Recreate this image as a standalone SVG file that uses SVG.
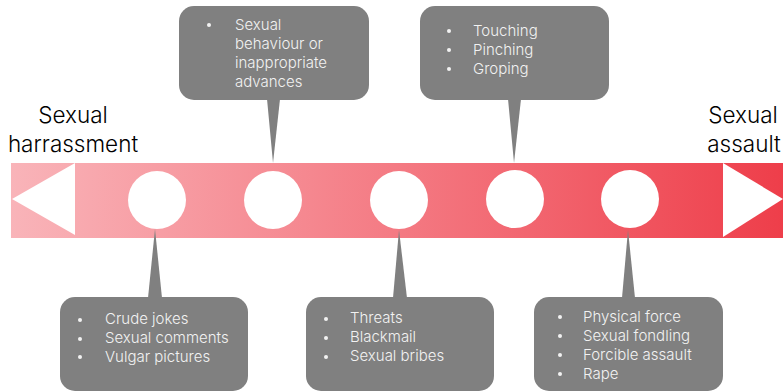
<svg xmlns="http://www.w3.org/2000/svg" width="783" height="392" viewBox="0 0 783 392">
<style>
.lbl{font-family:Inter,"Noto Sans",sans-serif;font-size:22.5px;font-weight:300;fill:#000}
.ct{font-family:Inter,"Noto Sans",sans-serif;font-size:15px;font-weight:300;fill:#f2f2f2;letter-spacing:0px}
.box{fill:#808080}
.dot{fill:#f2f2f2}
.c{fill:#ffffff}
</style>
<defs>
<linearGradient id="g" x1="11" y1="0" x2="783" y2="0" gradientUnits="userSpaceOnUse">
<stop offset="0" stop-color="#f9b4b9"/>
<stop offset="0.5" stop-color="#f47a83"/>
<stop offset="1" stop-color="#ee3e4a"/>
</linearGradient>
</defs>
<g id="bar">
<rect x="11" y="163" width="772" height="75" fill="url(#g)"/>
<polygon points="12,199 75,163 75,235" fill="#fff"/>
<polygon points="723,163 783,199 723,237" fill="#fff"/>
</g>
<g id="labels">
<text class="lbl" x="73" y="123" text-anchor="middle">Sexual</text>
<text class="lbl" x="73" y="152" text-anchor="middle">harrassment</text>
<text class="lbl" x="743" y="123" text-anchor="middle">Sexual</text>
<text class="lbl" x="744" y="152" text-anchor="middle">assault</text>
</g>
<g id="connectors">
<polygon class="box" points="267,99 280,99 273,163"/>
<polygon class="box" points="508,99 521,99 514,163"/>
<polygon class="box" points="148,298 162,298 155,229"/>
<polygon class="box" points="393,298 407,298 399,230"/>
<polygon class="box" points="622,298 635,298 628,230"/>
</g>
<g id="circles">
<circle class="c" cx="157" cy="200" r="29"/>
<circle class="c" cx="273" cy="200" r="29"/>
<circle class="c" cx="399" cy="200" r="29"/>
<circle class="c" cx="515" cy="199" r="29"/>
<circle class="c" cx="630" cy="199" r="29"/>
</g>
<g id="callout-top-1">
<rect class="box" x="179" y="6" width="190" height="94" rx="15"/>
<circle class="dot" cx="209" cy="25" r="2"/>
<text class="ct" x="235" y="30">Sexual</text>
<text class="ct" x="235" y="49">behaviour or</text>
<text class="ct" x="235" y="68">inappropriate</text>
<text class="ct" x="235" y="87">advances</text>
</g>
<g id="callout-top-2">
<rect class="box" x="420" y="6" width="189" height="94" rx="15"/>
<circle class="dot" cx="449" cy="31" r="2"/>
<circle class="dot" cx="449" cy="50" r="2"/>
<circle class="dot" cx="449" cy="69" r="2"/>
<text class="ct" x="473" y="36">Touching</text>
<text class="ct" x="473" y="55">Pinching</text>
<text class="ct" x="473" y="74">Groping</text>
</g>
<g id="callout-bottom-1">
<rect class="box" x="60" y="297" width="188" height="94" rx="15"/>
<circle class="dot" cx="80" cy="320" r="2"/>
<circle class="dot" cx="80" cy="339" r="2"/>
<circle class="dot" cx="80" cy="357" r="2"/>
<text class="ct" x="105" y="324">Crude jokes</text>
<text class="ct" x="105" y="343">Sexual comments</text>
<text class="ct" x="105" y="362">Vulgar pictures</text>
</g>
<g id="callout-bottom-2">
<rect class="box" x="306" y="297" width="188" height="94" rx="15"/>
<circle class="dot" cx="326" cy="319" r="2"/>
<circle class="dot" cx="326" cy="338" r="2"/>
<circle class="dot" cx="326" cy="357" r="2"/>
<text class="ct" x="350" y="323">Threats</text>
<text class="ct" x="350" y="342">Blackmail</text>
<text class="ct" x="350" y="361">Sexual bribes</text>
</g>
<g id="callout-bottom-3">
<rect class="box" x="534" y="297" width="189" height="94" rx="15"/>
<circle class="dot" cx="560" cy="317" r="2"/>
<circle class="dot" cx="560" cy="336" r="2"/>
<circle class="dot" cx="560" cy="355" r="2"/>
<circle class="dot" cx="560" cy="374" r="2"/>
<text class="ct" x="583" y="322">Physical force</text>
<text class="ct" x="583" y="341">Sexual fondling</text>
<text class="ct" x="583" y="360">Forcible assault</text>
<text class="ct" x="583" y="379">Rape</text>
</g>
</svg>
